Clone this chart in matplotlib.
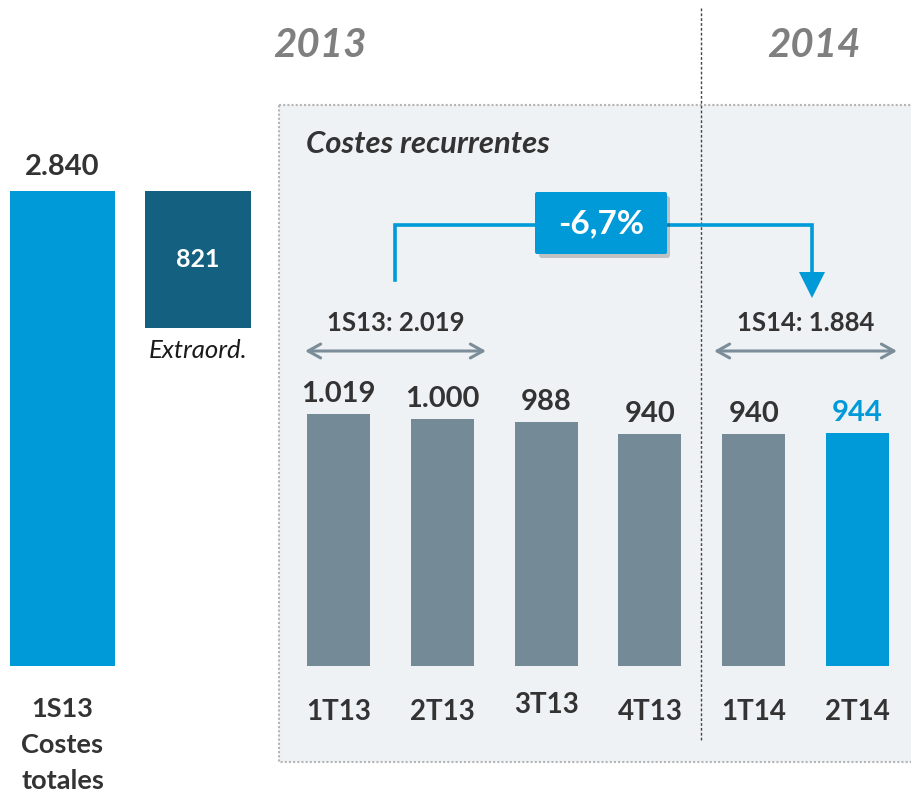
import matplotlib
matplotlib.use("Agg")
import matplotlib.pyplot as plt
from matplotlib.patches import Rectangle, FancyBboxPatch, Polygon

plt.rcParams['font.family'] = ['Lato', 'DejaVu Sans']

# data
total_lbl = "2.840"
total_val = 2840
extra_val = 821
recurr_1s13 = 2019
quarters = ["1T13", "2T13", "3T13", "4T13", "1T14", "2T14"]
q_vals = [1019, 1000, 988, 940, 940, 944]
q_lbls = ["1.019", "1.000", "988", "940", "940", "944"]
half_lbls = ["1S13: 2.019", "1S14: 1.884"]
change_lbl = "-6,7%"

BLUE = "#009ad8"
TEAL = "#136080"
GREY = "#748b97"
TXT = "#333333"
W, H = 912, 797

fig = plt.figure(figsize=(W / 100, H / 100), dpi=100)

def px_axes(x0, y0, x1, y1, **kw):
    # y measured from top in pixels
    return fig.add_axes([x0 / W, 1 - y1 / H, (x1 - x0) / W, (y1 - y0) / H], **kw)

# background / decoration axes in pixel units
bg = px_axes(0, 0, W, H)
bg.set_xlim(0, W)
bg.set_ylim(H, 0)
bg.axis('off')

bg.add_patch(Rectangle((279, 105), 640, 657, facecolor="#eff2f4",
                       edgecolor="#b5b5b5", lw=1.5, ls=(0, (1, 1)), zorder=0))
bg.plot([701, 701], [8, 742], color="#444444", lw=1, ls=(0, (2, 1.5)), zorder=1)

bg.text(320, 45, "2013", fontsize=29, fontweight='bold', fontstyle='italic',
        color="#7f7f7f", ha='center', va='center')
bg.text(814, 45, "2014", fontsize=29, fontweight='bold', fontstyle='italic',
        color="#7f7f7f", ha='center', va='center')
bg.text(306, 144, "Costes recurrentes", fontsize=22.3, fontweight='bold',
        fontstyle='italic', color=TXT, ha='left', va='center')

# bracket with arrow
bg.plot([395, 395, 812, 812], [280, 225, 225, 274], color=BLUE, lw=2.6,
        solid_joinstyle='miter', zorder=2)
bg.add_patch(Polygon([(799, 272), (825, 272), (812, 298)], closed=True,
                     facecolor=BLUE, edgecolor='none', zorder=2))
bg.add_patch(FancyBboxPatch((539, 196), 131, 62, boxstyle="round,pad=0,rounding_size=3",
                            facecolor="#000000", alpha=0.2, edgecolor='none', zorder=3))
bg.add_patch(FancyBboxPatch((535, 192), 132, 62, boxstyle="round,pad=0,rounding_size=2",
                            facecolor=BLUE, edgecolor='none', zorder=4))
bg.text(601, 224, change_lbl, fontsize=24, fontweight='bold', color='white',
        ha='center', va='center', zorder=5)

# half-year double arrows
for (xa, xb), lbl in zip([(305, 486), (714, 897)], half_lbls):
    bg.annotate('', xy=(xa, 351), xytext=(xb, 351),
                arrowprops=dict(arrowstyle='<->,head_length=0.9,head_width=0.5',
                                color="#7a8d98", lw=2.2, shrinkA=0, shrinkB=0))
    bg.text((xa + xb) / 2, 323, lbl, fontsize=18.5, fontweight='bold', color=TXT,
            ha='center', va='center')

# left axes: total and extraordinary
axl = px_axes(0, 191, 260, 666)
axl.patch.set_alpha(0)
axl.axis('off')
axl.set_ylim(0, total_val)
axl.set_xlim(-62.5 / 135.5, 197.5 / 135.5)
axl.bar([0], [total_val], width=0.775, color=BLUE)
axl.bar([1], [extra_val], bottom=[recurr_1s13], width=0.775, color=TEAL)
axl.annotate(total_lbl, (0, total_val), xytext=(0, 8), textcoords='offset points',
             ha='center', va='bottom', fontsize=21, fontweight='bold', color=TXT)
axl.text(1, recurr_1s13 + extra_val / 2, str(extra_val), ha='center', va='center',
         fontsize=18, fontweight='bold', color='white')
axl.annotate("Extraord.", (1, recurr_1s13), xytext=(0, -8), textcoords='offset points',
             ha='center', va='top', fontsize=18.5, fontstyle='italic', color='#1a1a1a')
for i, line in enumerate(["1S13", "Costes", "totales"]):
    axl.annotate(line, (0, 0), xytext=(0, -31 - i * 26), textcoords='offset points',
                 ha='center', va='center', fontsize=19.5, fontweight='bold', color=TXT)

# right axes: quarterly recurring costs
axr = px_axes(280, 191, W, 666)
axr.patch.set_alpha(0)
axr.axis('off')
axr.set_ylim(0, 475 / 0.2473)
axr.set_xlim(-58.5 / 103.8, 573.5 / 103.8)
colors = [GREY] * 5 + [BLUE]
xs = list(range(len(quarters)))
axr.bar(xs, q_vals, width=0.607, color=colors)
for x, v, lbl, c in zip(xs, q_vals, q_lbls, colors):
    axr.annotate(lbl, (x, v), xytext=(0, 5), textcoords='offset points', ha='center',
                 va='bottom', fontsize=21, fontweight='bold',
                 color=BLUE if c == BLUE else TXT)
for x, q in zip(xs, quarters):
    dy = -28 if q == "3T13" else -33
    axr.annotate(q, (x, 0), xytext=(0, dy), textcoords='offset points', ha='center',
                 va='center', fontsize=20, fontweight='bold', color=TXT)

fig.savefig("out.png", dpi=100)
